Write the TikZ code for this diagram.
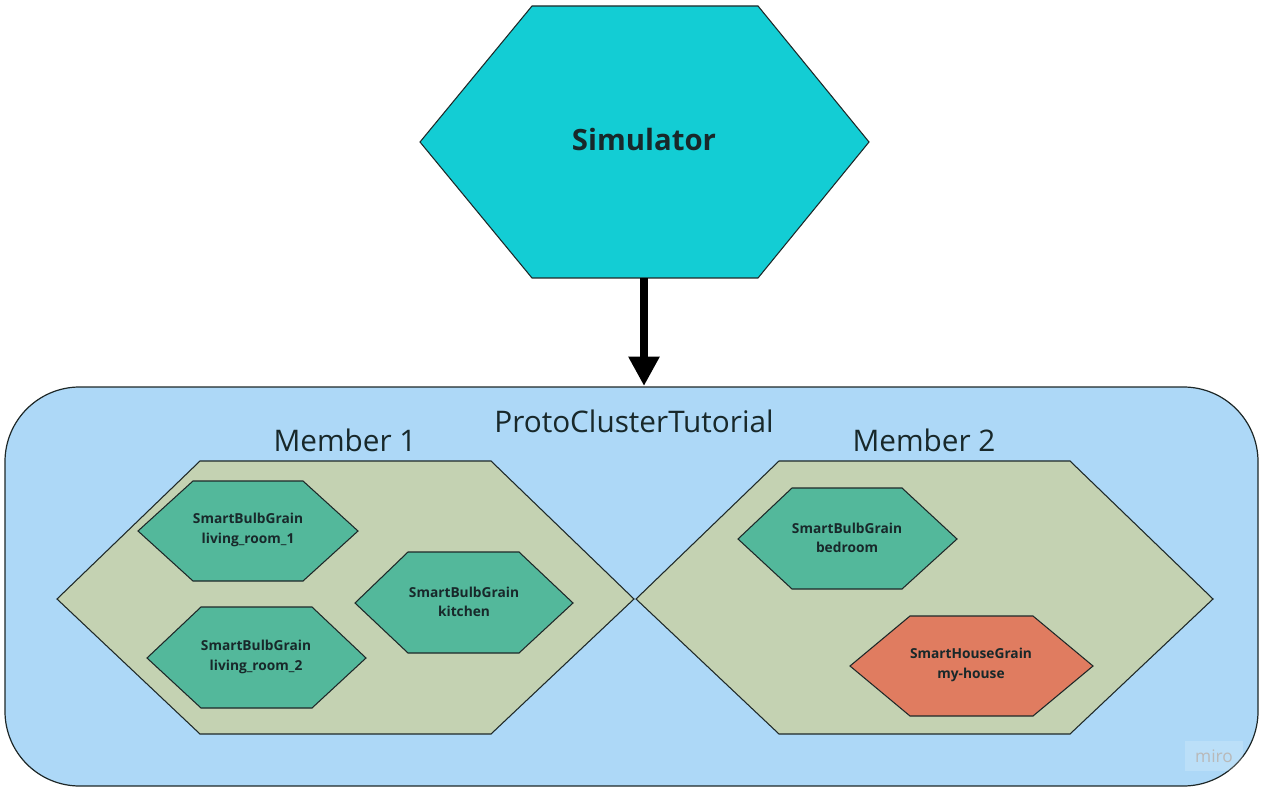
\documentclass[tikz,border=0pt]{standalone}
\usepackage{fontspec}
\setmainfont{Open Sans}
\usetikzlibrary{arrows.meta}
\definecolor{simfill}{RGB}{19,205,212}
\definecolor{clusterfill}{RGB}{173,216,247}
\definecolor{memberfill}{RGB}{196,210,178}
\definecolor{bulbfill}{RGB}{83,184,155}
\definecolor{housefill}{RGB}{224,124,96}
\definecolor{textdark}{RGB}{24,40,42}
\definecolor{edge}{RGB}{30,40,40}
\tikzset{
  hexshape/.style={draw=edge, line width=0.8pt, line join=miter},
  biglabel/.style={font=\fontsize{22.3}{26}\selectfont, text=textdark},
  grainlabel/.style={font=\bfseries\fontsize{10.3}{14.5}\selectfont, text=textdark, align=center},
  flowarrow/.style={line width=5.5pt, -{Triangle[width=22pt,length=22pt]}},
}
\begin{document}
\begin{tikzpicture}[x=0.75pt,y=-0.75pt]
\useasboundingbox (0,0) rectangle (1262,791);
% cluster
\node[draw=edge, line width=0.9pt, fill=clusterfill, rounded corners=56pt,
      minimum width=939.75pt, minimum height=299.25pt, inner sep=0pt] (cluster) at (631.5,586.5) {};
\node[biglabel] (clustertitle) at (634,421) {ProtoClusterTutorial};
% members
\path[hexshape, fill=memberfill] (57,599) -- (200,461) -- (491,461) -- (634,599) -- (491,734) -- (200,734) -- cycle;
\path[hexshape, fill=memberfill] (636,599) -- (779,461) -- (1070,461) -- (1213,599) -- (1070,734) -- (779,734) -- cycle;
\node[biglabel] (m1) at (345,440) {Member 1};
\node[biglabel] (m2) at (924,440) {Member 2};
% grains
\path[hexshape, fill=bulbfill] (138,531) -- (193,481) -- (303,481) -- (358,531) -- (303,581) -- (193,581) -- cycle;
\node[grainlabel] (lr1) at (248,530) {SmartBulbGrain\\living\_room\_1};
\path[hexshape, fill=bulbfill] (355,603) -- (408,552) -- (519,552) -- (573,603) -- (519,653) -- (408,653) -- cycle;
\node[grainlabel] (kit) at (464,602) {SmartBulbGrain\\kitchen};
\path[hexshape, fill=bulbfill] (147,658) -- (201,607) -- (312,607) -- (366,658) -- (312,708) -- (201,708) -- cycle;
\node[grainlabel] (lr2) at (256,657) {SmartBulbGrain\\living\_room\_2};
\path[hexshape, fill=bulbfill] (738,539) -- (792,488) -- (902,488) -- (957,539) -- (902,589) -- (792,589) -- cycle;
\node[grainlabel] (bed) at (847,538) {SmartBulbGrain\\bedroom};
\path[hexshape, fill=housefill] (850,666) -- (910,616) -- (1033,616) -- (1093,666) -- (1033,716) -- (910,716) -- cycle;
\node[grainlabel] (house) at (971,665) {SmartHouseGrain\\my-house};
% simulator
\path[hexshape, fill=simfill] (420,142) -- (532,6) -- (758,6) -- (869,142) -- (758,278) -- (532,278) -- cycle;
\node[minimum height=204pt, minimum width=10pt, inner sep=0pt] (sim) at (644,142) {};
\node[font=\bfseries\fontsize{22}{26}\selectfont, text=textdark] (simlabel) at (644,140) {Simulator};
% arrow
\coordinate (arrowend) at (644,386);
\draw[flowarrow] (sim.south) -- (arrowend);
% watermark
\node[fill=white, fill opacity=0.18, text opacity=1, text=gray!55, font=\fontsize{13}{15}\selectfont,
      minimum width=43pt, minimum height=22pt, inner sep=0pt] (miro) at (1214,756) {miro};
\end{tikzpicture}
\end{document}
